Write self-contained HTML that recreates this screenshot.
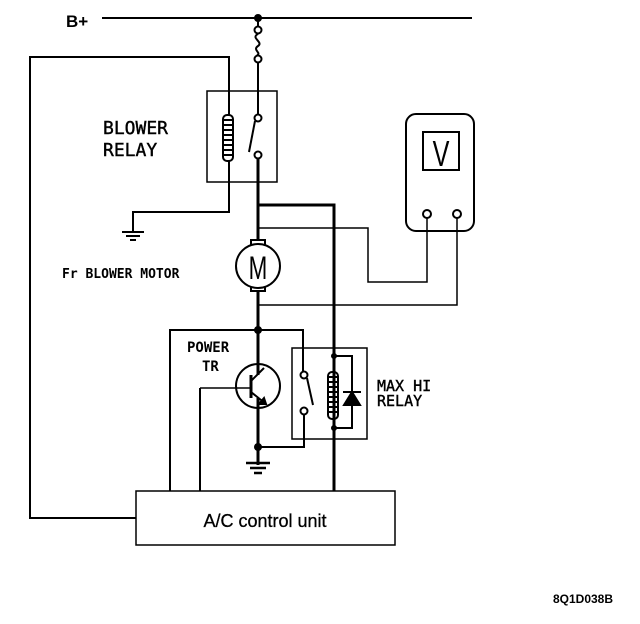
<!DOCTYPE html>
<html><head><style>
html,body{margin:0;padding:0;background:#fff;}
svg{display:block;}
text{font-family:"Liberation Sans",sans-serif;fill:#000;}
.m{font-family:"DejaVu Sans Mono","Liberation Mono",monospace;}
</style></head><body>
<svg width="640" height="624" viewBox="0 0 640 624" xmlns="http://www.w3.org/2000/svg">
<g fill="none" stroke="#000" stroke-width="2">
<line x1="102" y1="18" x2="472" y2="18"/>
<circle cx="258" cy="18" r="3" fill="#000"/>
<line x1="258" y1="18" x2="258" y2="27"/>
<circle cx="258" cy="30" r="3.5"/>
<path d="M258 34 C250 38,264 42,258 46 C252 50,262 53,257 55"/>
<circle cx="258" cy="59" r="3.5"/>
<line x1="258" y1="63" x2="258" y2="114"/>
<rect x="207" y="91" width="70" height="91" stroke-width="1.5"/>
<circle cx="258" cy="118" r="3.5"/>
<circle cx="258" cy="155" r="3.5"/>
<line x1="255" y1="121" x2="249" y2="152"/>
<line x1="258" y1="159" x2="258" y2="205" stroke-width="3"/>
<rect x="223" y="115" width="10" height="46" rx="4"/>
<path d="M224 120h8M224 125h8M224 130h8M224 135h8M224 140h8M224 145h8M224 150h8M224 155h8"/>
<polyline points="229,115 229,57 30,57 30,518 136,518"/>
<polyline points="229,161 229,212 133,212 133,232"/>
<path d="M122 232h22M126 236h14M130 240h6"/>
<polyline points="258,205 334,205 334,491" stroke-width="3"/>
<line x1="258" y1="205" x2="258" y2="240" stroke-width="3"/>
<rect x="251" y="240" width="14" height="6"/>
<rect x="251" y="285" width="14" height="6"/>
<circle cx="258" cy="266" r="22" fill="#fff"/>
<line x1="258" y1="291" x2="258" y2="375" stroke-width="3"/>
<polyline points="258,228 368,228 368,282 427,282 427,218" stroke-width="1.5"/>
<polyline points="258,305 457,305 457,218" stroke-width="1.5"/>
<rect x="406" y="114" width="68" height="117" rx="10"/>
<rect x="423" y="132" width="36" height="38"/>
<circle cx="427" cy="214" r="4"/>
<circle cx="457" cy="214" r="4"/>
<circle cx="258" cy="330" r="3" fill="#000"/>
<polyline points="170,491 170,330 303,330 303,371" stroke-width="2"/>
<circle cx="258" cy="386" r="22"/>
<line x1="251" y1="375" x2="251" y2="398" stroke-width="3"/>
<line x1="200" y1="388" x2="251" y2="388" stroke-width="1.5"/>
<line x1="200" y1="388" x2="200" y2="491"/>
<line x1="251" y1="381" x2="264" y2="368"/>
<line x1="251" y1="392" x2="266" y2="404"/>
<polygon points="266,404 259,404 264,398" fill="#000"/>
<line x1="258" y1="398" x2="258" y2="465" stroke-width="3"/>
<circle cx="258" cy="447" r="3" fill="#000"/>
<path d="M246 463h24M250 468h16M254 473h8" stroke-width="2.5"/>
<rect x="292" y="348" width="75" height="91" stroke-width="1.5"/>
<circle cx="304" cy="375" r="3.5"/>
<circle cx="304" cy="411" r="3.5"/>
<line x1="307" y1="378" x2="313" y2="405"/>
<polyline points="304,415 304,447 258,447"/>
<rect x="328" y="372" width="10" height="47" rx="4"/>
<path d="M329 377h8M329 382h8M329 387h8M329 392h8M329 397h8M329 402h8M329 407h8M329 412h8"/>
<polyline points="334,356 352,356 352,428 334,428"/>
<polygon points="344,405 360,405 352,392" fill="#000"/>
<line x1="343" y1="392" x2="361" y2="392"/>
<circle cx="334" cy="356" r="2" fill="#000"/>
<circle cx="334" cy="428" r="2" fill="#000"/>
<rect x="136" y="491" width="259" height="54" stroke-width="1.5"/>
<!-- M glyph and V glyph drawn as strokes kept as text below -->
</g>
<text x="66" y="27" font-size="17" font-weight="bold">B+</text>
<text class="m" x="103" y="134" font-size="18" stroke="#000" stroke-width="0.4">BLOWER</text>
<text class="m" x="103" y="156" font-size="18" stroke="#000" stroke-width="0.4">RELAY</text>
<text class="m" x="62" y="278" font-size="13" font-weight="bold">Fr BLOWER MOTOR</text>
<text x="258" y="279" font-size="32" text-anchor="middle" transform="translate(258,0) scale(0.7,1) translate(-258,0)" font-weight="normal">M</text>
<text x="441" y="166" font-size="36" text-anchor="middle" transform="translate(441,0) scale(0.7,1) translate(-441,0)">V</text>
<text class="m" x="187" y="352" font-size="14" font-weight="bold">POWER</text>
<text class="m" x="202" y="371" font-size="14" font-weight="bold">TR</text>
<text class="m" x="377" y="391" font-size="15" stroke="#000" stroke-width="0.4">MAX HI</text>
<text class="m" x="377" y="406" font-size="15" stroke="#000" stroke-width="0.4">RELAY</text>
<text x="265" y="527" font-size="18" text-anchor="middle" stroke="#000" stroke-width="0.3">A/C control unit</text>
<text x="583" y="603" font-size="12" font-weight="bold" text-anchor="middle">8Q1D038B</text>
</svg>
</body></html>
